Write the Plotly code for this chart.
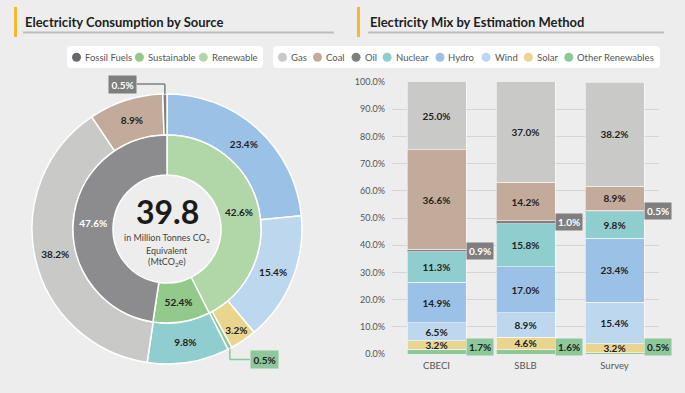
import math
import plotly.graph_objects as go

W, H = 685, 393

# ---------------- DATA ----------------
inner_labels = ["Renewable", "Sustainable", "Fossil Fuels"]
inner_values = [42.6, 9.8, 47.6]
inner_text = ["42.6%", "52.4%", "47.6%"]

outer_labels = ["Hydro", "Wind", "Solar", "Other Renewables", "Nuclear", "Gas", "Coal", "Oil"]
outer_values = [23.4, 15.4, 3.2, 0.5, 9.8, 38.2, 8.9, 0.5]
outer_callouts = ["Oil", "Other Renewables"]

total_value = "39.8"

methods = ["CBECI", "SBLB", "Survey"]
mix_sources = ["Other Renewables", "Solar", "Wind", "Hydro", "Nuclear", "Oil", "Coal", "Gas"]
other_renewables = [1.7, 1.6, 0.5]
solar = [3.2, 4.6, 3.2]
wind = [6.5, 8.9, 15.4]
hydro = [14.9, 17.0, 23.4]
nuclear = [11.3, 15.8, 9.8]
oil = [0.9, 1.0, 0.5]
coal = [36.6, 14.2, 8.9]
gas = [25.0, 37.0, 38.2]
mix_values = [other_renewables, solar, wind, hydro, nuclear, oil, coal, gas]
bar_callouts = ["Other Renewables", "Oil"]

y_tick_values = [0, 10, 20, 30, 40, 50, 60, 70, 80, 90, 100]

legend1_items = ["Fossil Fuels", "Sustainable", "Renewable"]
legend2_items = ["Gas", "Coal", "Oil", "Nuclear", "Hydro", "Wind", "Solar", "Other Renewables"]

# ---------------- STYLE ----------------
FONT = "Lato"
BG = "#ECEDEC"
DARK = "#222222"
colors = {
    "Fossil Fuels": "#8C8C8E",
    "Sustainable": "#93C98A",
    "Renewable": "#B1D7A9",
    "Gas": "#C9CAC8",
    "Coal": "#C2AB9A",
    "Oil": "#7F7F7F",
    "Nuclear": "#8FCDCE",
    "Hydro": "#9BC1E6",
    "Wind": "#BDD7EF",
    "Solar": "#EAD58F",
    "Other Renewables": "#8DC89B",
}
legend_colors = dict(colors)
legend_colors["Fossil Fuels"] = "#66686B"

# rough Lato regular advance widths (em)
CHAR_W = {"a": .50, "b": .55, "c": .46, "d": .55, "e": .52, "f": .32, "g": .49, "h": .55, "i": .23,
          "l": .23, "m": .83, "n": .55, "o": .55, "r": .35, "s": .41, "t": .34, "u": .55, "v": .49,
          "w": .76, "y": .49, " ": .19, "F": .52, "S": .49, "R": .59, "G": .68, "C": .65, "O": .74,
          "N": .73, "H": .73, "W": .98}


def text_w(s, size):
    return sum(CHAR_W.get(ch, 0.55) for ch in s) * size * 1.07


def px(x):
    return x / W


def py(y):
    return 1 - y / H


# donut geometry (pixels)
CX, CY = 167, 229
R_OUT, R_MID, R_IN = 135, 94, 54

fig = go.Figure()

outer_text = ["" if l in outer_callouts else f"{v:.1f}%" for l, v in zip(outer_labels, outer_values)]
fig.add_trace(go.Pie(
    labels=outer_labels, values=outer_values, text=outer_text, textinfo="text",
    sort=False, direction="clockwise", rotation=0, hole=R_MID / R_OUT,
    marker=dict(colors=[colors[l] for l in outer_labels], line=dict(color="white", width=1.5)),
    textposition="inside", insidetextorientation="horizontal",
    textfont=dict(family=FONT, size=10, color=DARK, weight="bold"),
    domain=dict(x=[px(CX - R_OUT), px(CX + R_OUT)], y=[py(CY + R_OUT), py(CY - R_OUT)]),
    showlegend=False, hoverinfo="label+percent",
))

fig.add_trace(go.Pie(
    labels=inner_labels, values=inner_values, text=inner_text, textinfo="text",
    sort=False, direction="clockwise", rotation=0, hole=R_IN / R_MID,
    marker=dict(colors=[colors[l] for l in inner_labels], line=dict(color="white", width=1.5)),
    textposition="inside", insidetextorientation="horizontal",
    textfont=dict(family=FONT, size=10, color=[DARK, DARK, "white"], weight="bold"),
    domain=dict(x=[px(CX - R_MID), px(CX + R_MID)], y=[py(CY + R_MID), py(CY - R_MID)]),
    showlegend=False, hoverinfo="label",
))

for src, vals in zip(mix_sources, mix_values):
    bar_kw = {}
    if src not in bar_callouts:
        bar_kw = dict(text=[f"{v:.1f}%" for v in vals], texttemplate="%{text}",
                      textposition="inside", insidetextanchor="middle", textangle=0,
                      textfont=dict(family=FONT, size=10, color=DARK, weight="bold"))
    fig.add_trace(go.Bar(
        x=methods, y=vals, name=src,
        marker=dict(color=colors[src], line=dict(color="rgba(255,255,255,0.55)", width=1)),
        showlegend=False, xaxis="x", yaxis="y", cliponaxis=True, **bar_kw,
    ))

AX_X0, AX_X1, AX_Y0, AX_Y1 = 392, 659, 354, 82
BARGAP = 0.337
cat_px = (AX_X1 - AX_X0) / len(methods)
bar_half = cat_px * (1 - BARGAP) / 2

shapes = []
annotations = []

for x_bar, x_text, x_end, title in [(14, 23, 334, "Electricity Consumption by Source"),
                                    (357, 368, 664, "Electricity Mix by Estimation Method")]:
    shapes.append(dict(type="rect", xref="paper", yref="paper", x0=px(x_bar), x1=px(x_bar + 3),
                       y0=py(37), y1=py(7), fillcolor="#F6B92B", line=dict(width=0)))
    shapes.append(dict(type="line", xref="paper", yref="paper", x0=px(x_text), x1=px(x_end),
                       y0=py(32.5), y1=py(32.5), line=dict(color="#BDBDBD", width=2)))
    annotations.append(dict(text=title, xref="paper", yref="paper", x=px(x_text), y=py(22),
                            xanchor="left", yanchor="middle", showarrow=False,
                            font=dict(family=FONT, size=13, color="#1E1E1E", weight="bold")))


def rrect(x0, y0, x1, y1, r):
    pts = [
        ("M", [(x0 + r, y0)]), ("L", [(x1 - r, y0)]), ("Q", [(x1, y0), (x1, y0 + r)]),
        ("L", [(x1, y1 - r)]), ("Q", [(x1, y1), (x1 - r, y1)]), ("L", [(x0 + r, y1)]),
        ("Q", [(x0, y1), (x0, y1 - r)]), ("L", [(x0, y0 + r)]), ("Q", [(x0, y0), (x0 + r, y0)]),
    ]
    s = ""
    for cmd, ps in pts:
        s += cmd + " " + " ".join(f"{px(a):.5f},{py(b):.5f}" for a, b in ps) + " "
    return s + "Z"


# legends (manual, compact like the reference)
LEG_Y = 57.3
LEG_FS = 9.5
for items, (bx0, bx1) in [(legend1_items, (67, 263)), (legend2_items, (273, 660))]:
    shapes.append(dict(type="path", xref="paper", yref="paper", path=rrect(bx0, 46, bx1, 68, 4),
                       fillcolor="white", line=dict(width=0), layer="below"))
    pad = 5
    widths = [text_w(n, LEG_FS) for n in items]
    used = sum(11 + w for w in widths)
    gap = (bx1 - bx0 - 2 * pad - used) / (len(items) - 1)
    cur = bx0 + pad
    for name, w in zip(items, widths):
        cx = cur + 4.5
        shapes.append(dict(type="circle", xref="paper", yref="paper",
                           x0=px(cx - 4.5), x1=px(cx + 4.5), y0=py(LEG_Y + 4.5), y1=py(LEG_Y - 4.5),
                           fillcolor=legend_colors[name], line=dict(width=0)))
        annotations.append(dict(text=name, xref="paper", yref="paper", x=px(cur + 11), y=py(LEG_Y),
                                xanchor="left", yanchor="middle", showarrow=False,
                                font=dict(family=FONT, size=LEG_FS, color="#555555")))
        cur += 11 + w + gap

# donut centre text
annotations.append(dict(text=total_value, xref="paper", yref="paper", x=px(CX), y=py(211),
                        xanchor="center", yanchor="middle", showarrow=False,
                        font=dict(family=FONT, size=32, color="#1A1A1A", weight="bold")))
for i, line in enumerate(["in Million Tonnes CO<sub>2</sub>", "Equivalent", "(MtCO<sub>2</sub>e)"]):
    annotations.append(dict(text=line, xref="paper", yref="paper", x=px(CX), y=py(238 + 12 * i),
                            xanchor="center", yanchor="middle", showarrow=False,
                            font=dict(family=FONT, size=9, color="#444444")))

# donut callouts for tiny slices
total_outer = sum(outer_values)
cum = 0
for lab, v in zip(outer_labels, outer_values):
    if lab in outer_callouts:
        ang = math.radians((cum + v / 2) / total_outer * 360)
        ex = CX + R_OUT * math.sin(ang)
        ey = CY - R_OUT * math.cos(ang)
        col = colors[lab]
        txt_col = "white" if lab == "Oil" else DARK
        if ey < CY:
            ky = ey - 10
            bx = ex - 28
            anchor = "right"
        else:
            ky = ey + 11
            bx = ex + 20
            anchor = "left"
        path = [(ex, ey), (ex, ky), (bx, ky)]
        for (a, b), (c, d) in zip(path[:-1], path[1:]):
            shapes.append(dict(type="line", xref="paper", yref="paper", x0=px(a), y0=py(b),
                               x1=px(c), y1=py(d), line=dict(color=col, width=1.5)))
        annotations.append(dict(text=f"{v:.1f}%", xref="paper", yref="paper", x=px(bx), y=py(ky),
                                xanchor=anchor, yanchor="middle", showarrow=False, bgcolor=col,
                                borderpad=2.5,
                                font=dict(family=FONT, size=10, color=txt_col, weight="bold")))
    cum += v

# bar callouts for thin segments
min_center = 7 / (AX_Y0 - AX_Y1) * 100
for i, m in enumerate(methods):
    base = 0
    for src, vals in zip(mix_sources, mix_values):
        v = vals[i]
        if src in bar_callouts:
            yc = max(base + v / 2, min_center)
            col = colors[src]
            txt_col = "white" if src == "Oil" else DARK
            annotations.append(dict(text=f"{v:.1f}%", x=m, y=yc, xref="x", yref="y",
                                    xanchor="left", yanchor="middle", xshift=bar_half,
                                    showarrow=False, bgcolor=col, borderpad=2,
                                    font=dict(family=FONT, size=10, color=txt_col, weight="bold")))
        base += v

fig.update_layout(
    width=W, height=H, margin=dict(l=0, r=0, t=0, b=0, pad=0, autoexpand=False),
    paper_bgcolor=BG, plot_bgcolor=BG,
    barmode="stack", bargap=BARGAP,
    uniformtext=dict(minsize=10, mode="show"),
    font=dict(family=FONT, color="#555555"),
    xaxis=dict(domain=[px(AX_X0), px(AX_X1)], range=[-0.5, len(methods) - 0.5],
               showgrid=False, zeroline=False, showline=False, ticks="", automargin=False,
               tickfont=dict(family=FONT, size=9.5, color="#555555"), ticklabelstandoff=4,
               fixedrange=True),
    yaxis=dict(domain=[py(AX_Y0), py(AX_Y1)], range=[0, 100], automargin=False,
               tickvals=y_tick_values, ticktext=[f"{v:.1f}%" for v in y_tick_values],
               showgrid=True, gridcolor="#D4D5D4", gridwidth=1.2, zeroline=False, showline=False,
               ticks="", tickfont=dict(family=FONT, size=9, color="#555555"),
               ticklabelstandoff=6, fixedrange=True),
    shapes=shapes, annotations=annotations,
    showlegend=False,
)

fig.write_html("out.html")
